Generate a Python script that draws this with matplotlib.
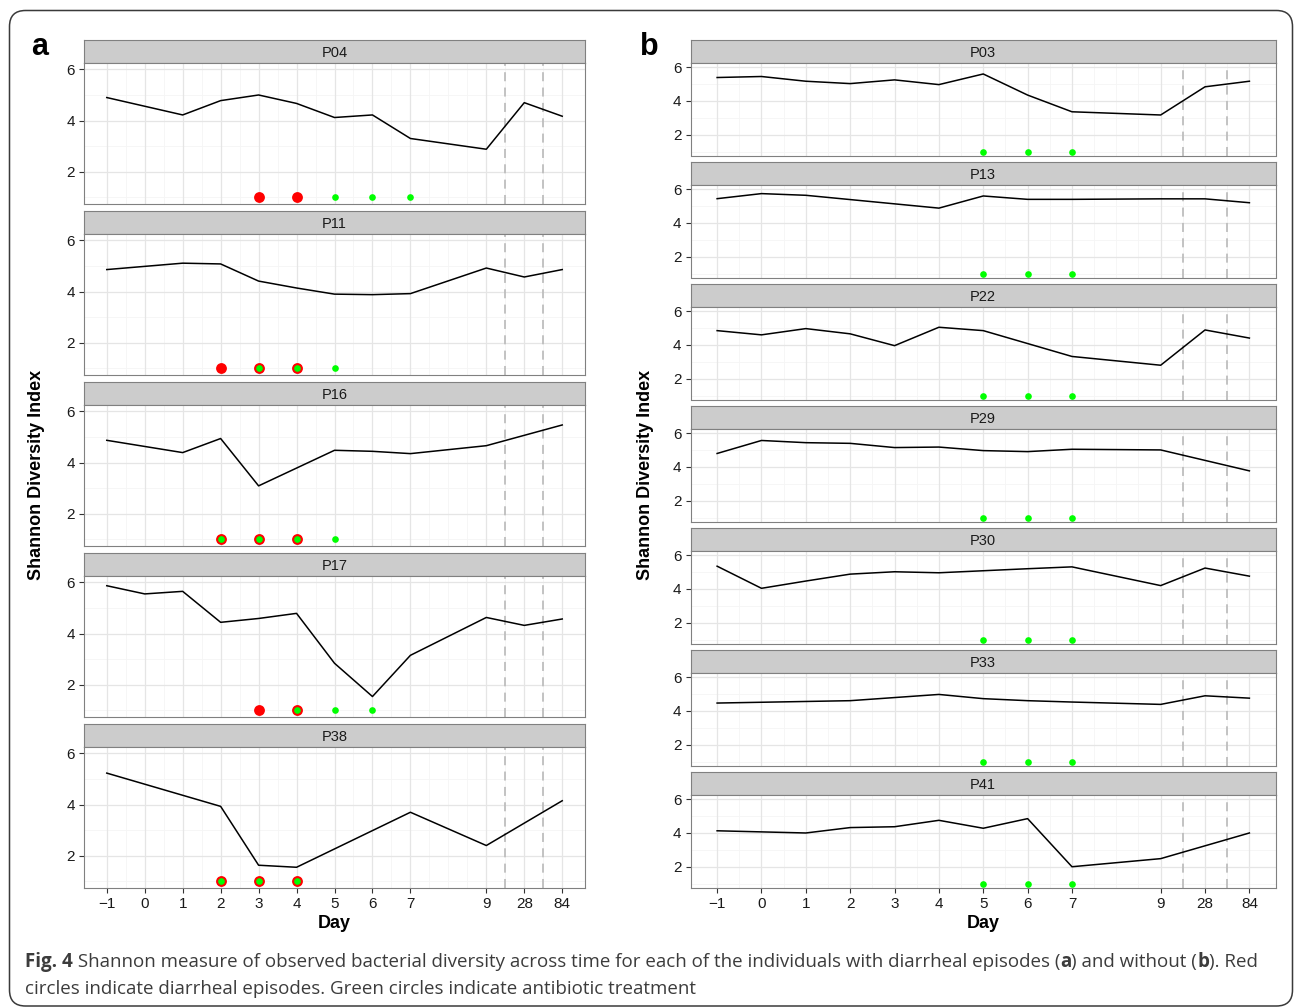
import numpy as np
import matplotlib
matplotlib.use("Agg")
import matplotlib.pyplot as plt
from matplotlib.patches import FancyBboxPatch
from matplotlib.transforms import IdentityTransform
from matplotlib import font_manager

nan = np.nan

# ---------------- data ----------------
day_labels = ["−1", "0", "1", "2", "3", "4", "5", "6", "7", "9", "28", "84"]
day_pos = [-1, 0, 1, 2, 3, 4, 5, 6, 7, 9, 10, 11]

panel_a_ids = ["P04", "P11", "P16", "P17", "P38"]
panel_a_values = {
    "P04": [4.90, nan, 4.22, 4.78, 5.00, 4.67, 4.12, 4.22, 3.30, 2.88, 4.70, 4.17],
    "P11": [4.86, nan, 5.11, 5.08, 4.41, 4.14, 3.90, 3.88, 3.92, 4.92, 4.57, 4.86],
    "P16": [4.87, nan, 4.39, 4.94, 3.09, nan, 4.48, 4.44, 4.35, 4.66, nan, 5.47],
    "P17": [5.87, 5.55, 5.65, 4.44, 4.59, 4.79, 2.84, 1.54, 3.15, 4.63, 4.32, 4.57],
    "P38": [5.23, nan, nan, 3.93, 1.63, 1.55, nan, nan, 3.70, 2.40, nan, 4.15],
}
panel_a_diarrhea = {
    "P04": [3, 4], "P11": [2, 3, 4], "P16": [2, 3, 4], "P17": [3, 4], "P38": [2, 3, 4],
}
panel_a_antibiotic = {
    "P04": [5, 6, 7], "P11": [3, 4, 5], "P16": [2, 3, 4, 5], "P17": [4, 5, 6], "P38": [2, 3, 4],
}

panel_b_ids = ["P03", "P13", "P22", "P29", "P30", "P33", "P41"]
panel_b_values = {
    "P03": [5.39, 5.45, 5.17, 5.03, 5.25, 4.97, 5.60, 4.35, 3.36, 3.17, 4.84, 5.17],
    "P13": [5.44, 5.74, 5.64, nan, nan, 4.88, 5.60, 5.40, 5.40, 5.43, 5.43, 5.20],
    "P22": [4.85, 4.60, 4.97, 4.66, 3.96, 5.05, 4.85, nan, 3.32, 2.80, 4.89, 4.41],
    "P29": [4.80, 5.57, 5.44, 5.40, 5.15, 5.18, 4.97, 4.91, 5.05, 5.01, nan, 3.77],
    "P30": [5.35, 4.04, 4.47, 4.88, 5.02, 4.96, 5.08, 5.20, 5.31, 4.20, 5.24, 4.76],
    "P33": [4.47, nan, nan, 4.61, nan, 4.98, 4.73, 4.61, 4.53, 4.39, 4.90, 4.76],
    "P41": [4.13, nan, 4.00, 4.32, 4.37, 4.75, 4.28, 4.85, 2.00, 2.48, nan, 4.00],
}
panel_b_diarrhea = {k: [] for k in panel_b_ids}
panel_b_antibiotic = {k: [5, 6, 7] for k in panel_b_ids}

marker_level = 1.0
cutoff_lines = [9.5, 10.5]

caption_line1 = [
    ("Fig. 4", True), (" Shannon measure of observed bacterial diversity across time for each of the individuals with diarrheal episodes (", False),
    ("a", True), (") and without (", False), ("b", True), ("). Red", False),
]
caption_line2 = [("circles indicate diarrheal episodes. Green circles indicate antibiotic treatment", False)]

# ---------------- layout ----------------
W, H = 1295, 1008
base_font = ["Liberation Sans", "DejaVu Sans"]
plt.rcParams["font.family"] = base_font

fig = plt.figure(figsize=(W / 100, H / 100), dpi=100)
fig.patch.set_facecolor("white")


def px_axes(left, top, width, height):
    return fig.add_axes([left / W, 1 - (top + height) / H, width / W, height / H])


pos_of = dict(zip([-1, 0, 1, 2, 3, 4, 5, 6, 7, 9, 28, 84], day_pos))
major_x = day_pos
minor_x = [-0.5, 0.5, 1.5, 2.5, 3.5, 4.5, 5.5, 6.5, 7.5, 8, 8.5, 9.5, 10.5]


def draw_panel(ids, values, diarrhea, antibiotic, left, width, strip_top0, period,
               strip_h, plot_h, ylim):
    n = len(ids)
    for i, pid in enumerate(ids):
        st = strip_top0 + period * i
        sax = px_axes(left, st, width, strip_h)
        sax.set_facecolor("#CCCCCC")
        sax.set_xticks([]); sax.set_yticks([])
        for s in sax.spines.values():
            s.set_color("#808080"); s.set_linewidth(0.8)
        sax.text(0.5, 0.45, pid, ha="center", va="center", fontsize=10.5,
                 color="#1A1A1A", transform=sax.transAxes)

        ax = px_axes(left, st + strip_h, width, plot_h)
        ax.set_xlim(-1.6, 11.6)
        ax.set_ylim(*ylim)
        for xv in minor_x:
            ax.axvline(xv, color="#F5F5F5", lw=0.6, zorder=0)
        for yv in [1, 3, 5]:
            ax.axhline(yv, color="#F5F5F5", lw=0.6, zorder=0)
        for xv in major_x:
            ax.axvline(xv, color="#E5E5E5", lw=0.9, zorder=0)
        for yv in [2, 4, 6]:
            ax.axhline(yv, color="#E5E5E5", lw=0.9, zorder=0)
        for xv in cutoff_lines:
            ax.axvline(xv, color="#BEBEBE", lw=1.3, ls=(0, (5, 3.5)), zorder=1)

        y = np.array(values[pid], dtype=float)
        x = np.array(day_pos, dtype=float)
        m = ~np.isnan(y)
        ax.plot(x[m], y[m], color="black", lw=1.1, zorder=3)

        d = [pos_of[v] for v in diarrhea[pid]]
        g = [pos_of[v] for v in antibiotic[pid]]
        if d:
            ax.plot(d, [marker_level] * len(d), "o", color="#FF0000", ms=7.8,
                    mec="none", zorder=4, clip_on=False)
        if g:
            ax.plot(g, [marker_level] * len(g), "o", color="#00FF00", ms=4.8,
                    mec="none", zorder=5, clip_on=False)

        for s in ax.spines.values():
            s.set_color("#808080"); s.set_linewidth(0.8)
        ax.set_yticks([2, 4, 6])
        ax.set_yticklabels(["2", "4", "6"], fontsize=11, color="#1A1A1A")
        ax.tick_params(axis="y", length=3.5, width=0.8, color="#333333", pad=3)
        if i == n - 1:
            ax.set_xticks(day_pos)
            ax.set_xticklabels(day_labels, fontsize=11, color="#1A1A1A")
            ax.tick_params(axis="x", length=3.5, width=0.8, color="#333333", pad=3)
        else:
            ax.set_xticks([])


draw_panel(panel_a_ids, panel_a_values, panel_a_diarrhea, panel_a_antibiotic,
           left=84, width=501, strip_top0=40, period=171, strip_h=23, plot_h=141,
           ylim=(0.74, 6.25))
draw_panel(panel_b_ids, panel_b_values, panel_b_diarrhea, panel_b_antibiotic,
           left=690.5, width=585.5, strip_top0=40, period=122, strip_h=23, plot_h=92.5,
           ylim=(0.77, 6.25))

# axis titles
fig.text(334.5 / W, 1 - 924 / H, "Day", ha="center", va="center", fontsize=13,
         fontweight="bold", color="black")
fig.text(983 / W, 1 - 924 / H, "Day", ha="center", va="center", fontsize=13,
         fontweight="bold", color="black")
fig.text(37 / W, 1 - 475 / H, "Shannon Diversity Index", ha="center", va="center",
         rotation=90, fontsize=13, fontweight="bold", color="black")
fig.text(645 / W, 1 - 475 / H, "Shannon Diversity Index", ha="center", va="center",
         rotation=90, fontsize=13, fontweight="bold", color="black")

# panel letters
fig.text(40 / W, 1 - 55 / H, "a", ha="center", va="baseline", fontsize=22,
         fontweight="bold", color="black")
fig.text(649 / W, 1 - 55 / H, "b", ha="center", va="baseline", fontsize=22,
         fontweight="bold", color="black")

# frame
frame = FancyBboxPatch((9.5, H - 1006), 1283, 995.5,
                       boxstyle="round,pad=0,rounding_size=16",
                       transform=IdentityTransform(), fill=False,
                       ec="#3A3A3A", lw=1.1)
fig.add_artist(frame)

# caption
avail = {f.name for f in font_manager.fontManager.ttflist}
cap_font = ["Liberation Sans Narrow", "DejaVu Sans"] if "Liberation Sans Narrow" in avail \
    else ["Open Sans", "DejaVu Sans"]
renderer = fig.canvas.get_renderer()


def draw_line(segments, x0, baseline, size):
    x = x0
    for txt, bold in segments:
        t = fig.text(x / W, 1 - baseline / H, txt, fontsize=size, family=cap_font,
                     fontweight="bold" if bold else "normal", color="#3C3C3C",
                     ha="left", va="baseline")
        bb = t.get_window_extent(renderer)
        x += bb.width
    return x - x0


target = 1225.0
probe = fig.text(0, 0, "".join(s for s, _ in caption_line1), fontsize=13, family=cap_font)
wprobe = probe.get_window_extent(renderer).width
probe.remove()
cap_size = 13 * target / wprobe
draw_line(caption_line1, 25, 967, cap_size)
draw_line(caption_line2, 25, 994, cap_size)

fig.savefig("out.png", dpi=100)
